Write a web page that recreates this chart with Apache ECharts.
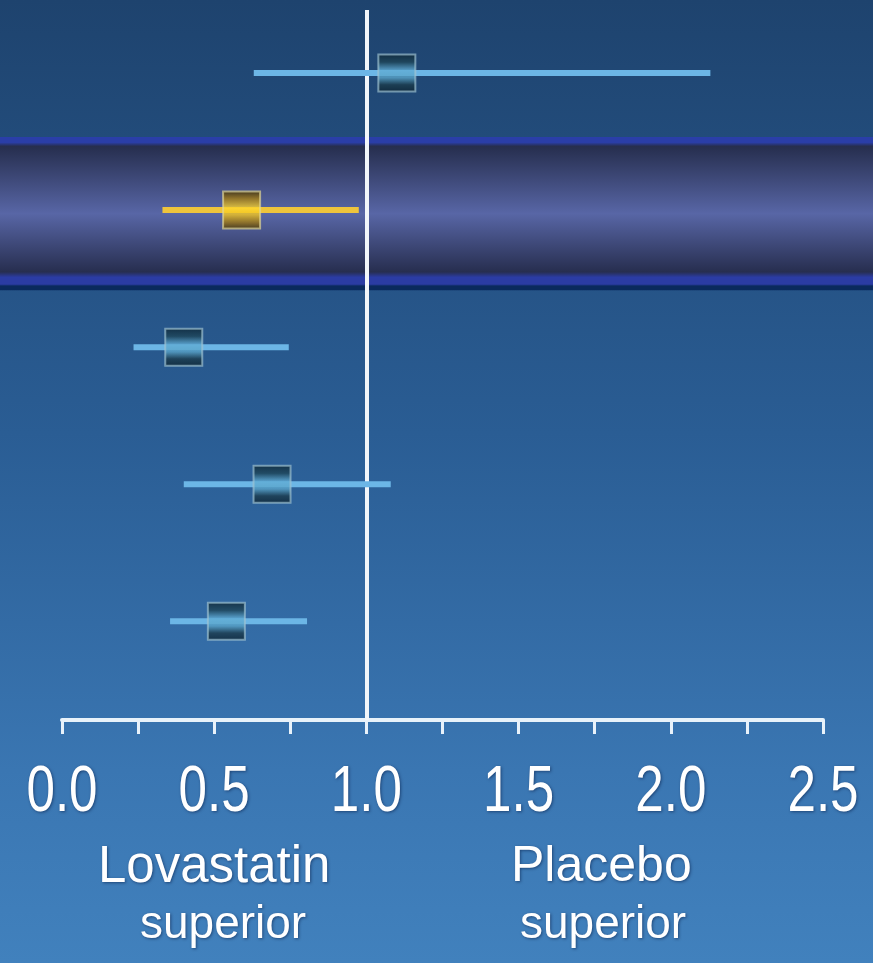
<!DOCTYPE html>
<html>
<head>
<meta charset="utf-8">
<script src="https://cdn.jsdelivr.net/npm/echarts@6/dist/echarts.min.js"></script>
<style>
  html, body { margin: 0; padding: 0; }
  body { width: 873px; height: 963px; background: linear-gradient(to bottom, #1e436e 0%, #2a5d94 45%, #3a76b2 80%, #4181bd 100%); }
  #chart { width: 873px; height: 963px; }
</style>
</head>
<body>
<div id="chart"></div>
<script>
// Study rows, top to bottom
const rows = [1, 2, 3, 4, 5];
// Relative risk point estimates and 95% confidence limits
const estimate = [1.10, 0.59, 0.40, 0.69, 0.54];
const lower    = [0.63, 0.33, 0.235, 0.40, 0.355];
const upper    = [2.13, 0.975, 0.745, 1.08, 0.805];
// Highlighted row (the overall result)
const highlightRow = 2;
// Axis ticks and labels
const tickMin = 0, tickMax = 2.5, tickStep = 0.25;
const tickLabels = [0.0, 0.5, 1.0, 1.5, 2.0, 2.5];
const referenceValue = 1.0;

const Y_MIN = 0.54, Y_MAX = 5.72;
const G = echarts.graphic.LinearGradient;
const shadow = { textShadowColor: 'rgba(0,20,60,0.5)', textShadowBlur: 3, textShadowOffsetX: 1, textShadowOffsetY: 1 };
const SANS = "'Liberation Sans', Arial, sans-serif";

const blueBox = new G(0, 0, 0, 1, [
  { offset: 0, color: '#0e2533' }, { offset: 0.22, color: '#1f4658' },
  { offset: 0.42, color: '#62aed6' }, { offset: 0.62, color: '#5aa4c8' },
  { offset: 0.8, color: '#1c3c4c' }, { offset: 1, color: '#0c2230' }
]);
const goldBox = new G(0, 0, 0, 1, [
  { offset: 0, color: '#3c2c06' }, { offset: 0.2, color: '#a07a12' },
  { offset: 0.45, color: '#ffd92e' }, { offset: 0.62, color: '#f2c41e' },
  { offset: 0.82, color: '#9a7410' }, { offset: 1, color: '#3e2e06' }
]);
const bandFill = new G(0, 0, 0, 1, [
  { offset: 0, color: '#2a3ea8' }, { offset: 0.035, color: '#2a3ea8' },
  { offset: 0.06, color: '#262e4e' }, { offset: 0.5, color: '#5866a6' },
  { offset: 0.88, color: '#272e4f' }, { offset: 0.915, color: '#2b3ca4' },
  { offset: 0.96, color: '#2b3ca4' }, { offset: 0.972, color: '#0a2a5e' },
  { offset: 1, color: '#0a2a5e' }
]);

const points = rows.map((r, i) => ({
  value: [estimate[i], r],
  itemStyle: r === highlightRow
    ? { color: goldBox, borderColor: 'rgba(225,215,150,0.85)', borderWidth: 2 }
    : { color: blueBox, borderColor: 'rgba(160,195,210,0.85)', borderWidth: 2 }
}));
const intervals = rows.map((r, i) => [lower[i], upper[i], r]);

const chart = echarts.init(document.getElementById('chart'), null, { renderer: 'canvas' });
chart.setOption({
  backgroundColor: 'transparent',
  animation: false,
  grid: [
    { left: 0, right: 0, top: 10, bottom: 243 },
    { left: 62, right: 50, top: 10, bottom: 243 }
  ],
  xAxis: [
    { gridIndex: 0, type: 'value', min: 0, max: 1, show: false },
    {
      gridIndex: 1, type: 'value', min: tickMin, max: tickMax, interval: tickStep,
      splitLine: { show: false },
      axisLine: { show: true, lineStyle: { color: '#e8f2fa', width: 4 } },
      axisTick: { show: true, length: 14, lineStyle: { color: '#e8f2fa', width: 3 } },
      axisLabel: { show: false }
    }
  ],
  yAxis: [
    { gridIndex: 0, type: 'value', min: Y_MIN, max: Y_MAX, inverse: true, show: false },
    { gridIndex: 1, type: 'value', min: Y_MIN, max: Y_MAX, inverse: true, show: false }
  ],
  series: [
    {
      // highlight band behind the overall result
      type: 'line', xAxisIndex: 0, yAxisIndex: 0, data: [], z: 1, silent: true,
      markArea: {
        silent: true,
        itemStyle: { color: bandFill },
        data: [[{ yAxis: highlightRow - 0.533 }, { yAxis: highlightRow + 0.585 }]]
      }
    },
    {
      // confidence intervals
      type: 'custom', xAxisIndex: 1, yAxisIndex: 1, z: 3,
      data: intervals,
      renderItem: (params, api) => {
        const a = api.coord([api.value(0), api.value(2)]);
        const b = api.coord([api.value(1), api.value(2)]);
        const gold = api.value(2) === highlightRow;
        return {
          type: 'line',
          shape: { x1: a[0], y1: a[1], x2: b[0], y2: b[1] },
          style: { stroke: gold ? '#eec43c' : '#6cb6e6', lineWidth: 6, lineCap: 'butt' }
        };
      },
      markLine: {
        silent: true, symbol: 'none', z: 2,
        label: { show: false },
        lineStyle: { color: '#f2f6fa', width: 4, type: 'solid' },
        data: [{ xAxis: referenceValue }]
      }
    },
    {
      // point estimates
      type: 'scatter', xAxisIndex: 1, yAxisIndex: 1, z: 4,
      symbol: 'rect', symbolSize: [37, 37],
      data: points
    }
  ]
});

// Condensed tick labels, placed under the axis through the axis scale
const tickTexts = tickLabels.map(v => {
  const p = chart.convertToPixel({ xAxisIndex: 1, yAxisIndex: 1 }, [v, Y_MAX]);
  return {
    type: 'text', x: p[0], y: p[1] + 41, scaleX: 0.8,
    style: Object.assign({ text: v.toFixed(1), x: 0, y: 0, align: 'center', verticalAlign: 'top', fill: '#fff', fontSize: 64, fontFamily: SANS }, shadow)
  };
});

chart.setOption({
  graphic: tickTexts.concat([
    { type: 'text', left: 98, top: 842, style: Object.assign({ text: 'Lovastatin', fill: '#fff', fontSize: 51, fontFamily: SANS }, shadow) },
    { type: 'text', left: 140, top: 902, style: Object.assign({ text: 'superior', fill: '#fff', fontSize: 46, fontFamily: SANS }, shadow) },
    { type: 'text', left: 511, top: 842, style: Object.assign({ text: 'Placebo', fill: '#fff', fontSize: 50, fontFamily: SANS }, shadow) },
    { type: 'text', left: 520, top: 902, style: Object.assign({ text: 'superior', fill: '#fff', fontSize: 46, fontFamily: SANS }, shadow) }
  ])
});
</script>
</body>
</html>
